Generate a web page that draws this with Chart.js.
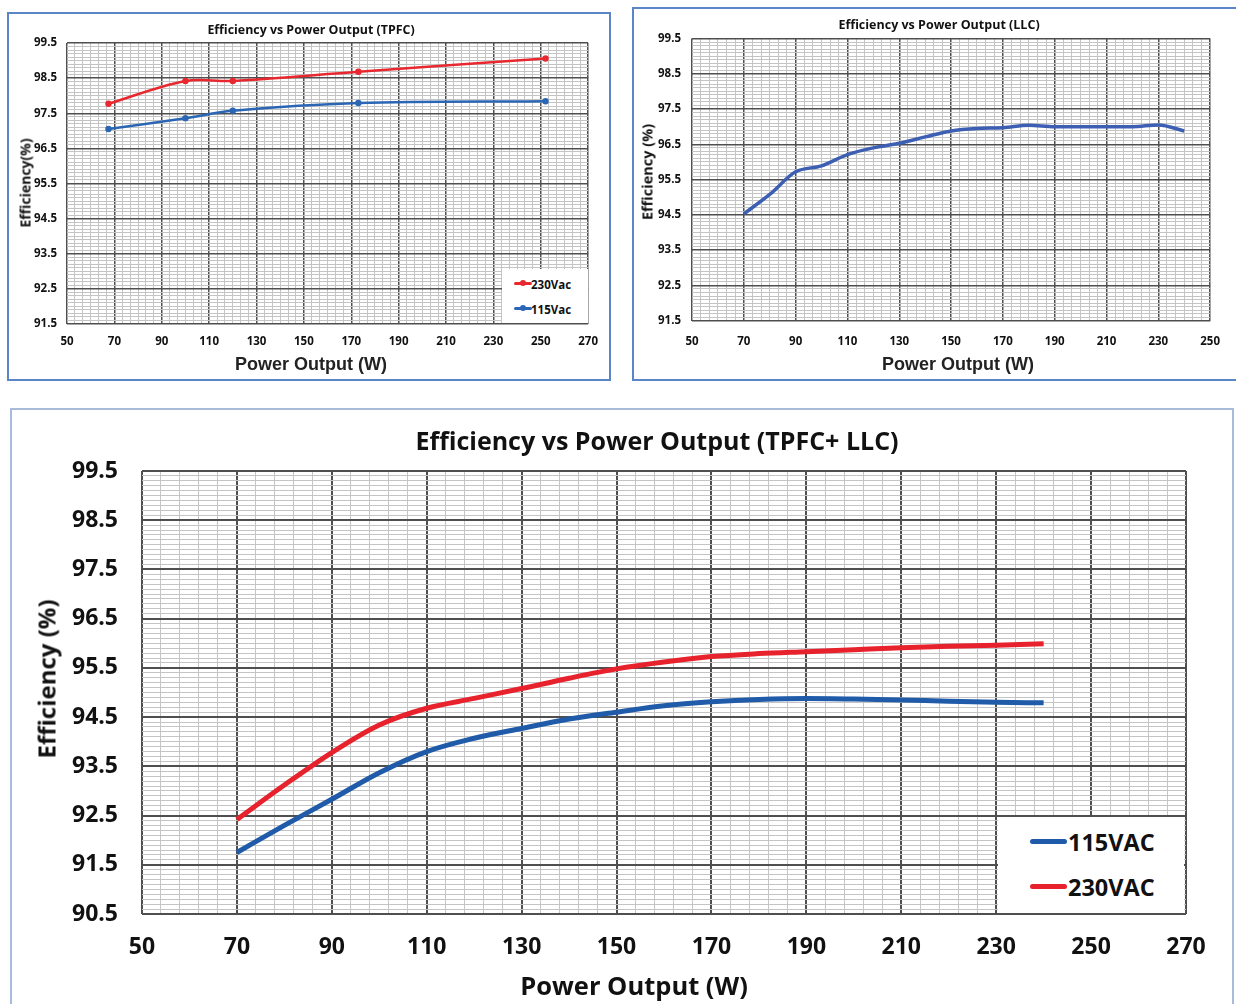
<!DOCTYPE html>
<html>
<head>
<meta charset="utf-8">
<title>Efficiency vs Power Output</title>
<script src="https://cdn.jsdelivr.net/npm/chart.js@4.4.1/dist/chart.umd.min.js"></script>
<style>
  html, body { margin: 0; padding: 0; background: #fff; overflow: hidden; }
  body { width: 1236px; height: 1004px; position: relative; }
  .panel { position: absolute; box-sizing: border-box; background: transparent; }
  #panelTpfc { left: 7px; top: 12px; width: 604px; height: 369px; border: 2px solid #5a86c8; }
  #panelLlc { left: 632px; top: 7px; width: 620px; height: 374px; border: 2px solid #5a86c8; }
  #panelCombo { left: 10px; top: 408px; width: 1224px; height: 610px; border: 2px solid #a9bbdb; }
  canvas { position: absolute; }
  .txt { position: absolute; white-space: nowrap; color: #111; transform: translate(-50%, -50%); }
  .rot { transform: translate(-50%, -50%) rotate(-90deg); }
  .calibri { font-family: "Open Sans", Lato, sans-serif; font-weight: bold; }
  .arial { font-family: "Liberation Sans", Arial, sans-serif; font-weight: bold; color: #222; }
  .legend { position: absolute; background: #fff; }
  .leg-line { position: absolute; border-radius: 3px; }
  .leg-dot { position: absolute; border-radius: 50%; }
  .leg-text { position: absolute; white-space: nowrap; transform: translateY(-50%); font-family: "Open Sans", sans-serif; font-weight: bold; color: #111; }
</style>
</head>
<body>
<div class="panel" id="panelTpfc"></div>
<div class="panel" id="panelLlc"></div>
<div class="panel" id="panelCombo"></div>

<canvas id="chartTpfc" width="600" height="365" style="left:9px;top:14px"></canvas>
<canvas id="chartLlc" width="600" height="370" style="left:634px;top:9px"></canvas>
<canvas id="chartCombo" width="1220" height="594" style="left:12px;top:410px"></canvas>

<!-- titles -->
<div class="txt calibri" style="left:311px;top:29px;font-size:12.4px">Efficiency vs Power Output (TPFC)</div>
<div class="txt calibri rot" style="left:25px;top:183px;font-size:14px">Efficiency(%)</div>
<div class="txt arial" style="left:311px;top:364px;font-size:18px">Power Output (W)</div>

<div class="txt calibri" style="left:939px;top:24px;font-size:12.5px">Efficiency vs Power Output (LLC)</div>
<div class="txt calibri rot" style="left:647px;top:172px;font-size:14.5px">Efficiency (%)</div>
<div class="txt arial" style="left:958px;top:364px;font-size:18px">Power Output (W)</div>

<div class="txt calibri" style="left:657px;top:440px;font-size:25px">Efficiency vs Power Output (TPFC+ LLC)</div>
<div class="txt calibri rot" style="left:46px;top:679px;font-size:24px">Efficiency (%)</div>
<div class="txt calibri" style="left:634px;top:985px;font-size:25.5px">Power Output (W)</div>

<!-- legends -->
<div class="legend" style="left:502px;top:269px;width:86px;height:54px"></div>
<div class="leg-line" style="left:514px;top:282px;width:18px;height:2.5px;background:#e8282e"></div>
<div class="leg-dot" style="left:520px;top:280px;width:6px;height:6px;background:#e8282e"></div>
<div class="leg-text" style="left:531px;top:283.5px;font-size:11.5px">230Vac</div>
<div class="leg-line" style="left:514px;top:307px;width:18px;height:2.5px;background:#2a66b4"></div>
<div class="leg-dot" style="left:520px;top:305px;width:6px;height:6px;background:#2a66b4"></div>
<div class="leg-text" style="left:531px;top:308.5px;font-size:11.5px">115Vac</div>

<div class="legend" style="left:998px;top:817px;width:186px;height:96px"></div>
<div class="leg-line" style="left:1030px;top:839px;width:37px;height:5px;background:#1f5ba8"></div>
<div class="leg-text" style="left:1068px;top:842px;font-size:23.5px">115VAC</div>
<div class="leg-line" style="left:1030px;top:884px;width:37px;height:5px;background:#e8222c"></div>
<div class="leg-text" style="left:1068px;top:887px;font-size:23.5px">230VAC</div>

<script>
// ---- data ----

// TPFC stage (measured points)
const TPFC_POWER = [67.5, 100, 120, 173, 252];
const TPFC_230VAC = [97.77, 98.42, 98.42, 98.68, 99.06];
const TPFC_115VAC = [97.05, 97.36, 97.57, 97.79, 97.84];

// LLC stage
const LLC_POWER = [70, 80, 90, 100, 110, 120, 130, 140, 150, 160, 170, 180, 190, 200, 210, 220, 230, 240];
const LLC_EFF = [94.53, 95.08, 95.72, 95.89, 96.21, 96.40, 96.53, 96.71, 96.88, 96.95, 96.97, 97.04, 97.0, 97.0, 97.0, 97.0, 97.05, 96.88];

// TPFC + LLC combined
const COMBO_POWER = [70, 80, 90, 100, 110, 120, 130, 140, 150, 160, 170, 180, 190, 200, 210, 220, 230, 240];
const COMBO_115VAC = [91.75, 92.30, 92.83, 93.37, 93.80, 94.07, 94.27, 94.46, 94.60, 94.73, 94.81, 94.86, 94.88, 94.87, 94.85, 94.82, 94.80, 94.79];
const COMBO_230VAC = [92.42, 93.12, 93.78, 94.34, 94.68, 94.88, 95.08, 95.29, 95.48, 95.62, 95.73, 95.79, 95.83, 95.87, 95.91, 95.94, 95.96, 95.99];

// axis tick labels (major grid)
const POWER_TICKS_270 = [50, 70, 90, 110, 130, 150, 170, 190, 210, 230, 250, 270];
const POWER_TICKS_250 = [50, 70, 90, 110, 130, 150, 170, 190, 210, 230, 250];
const EFF_TICKS_TOP = [91.5, 92.5, 93.5, 94.5, 95.5, 96.5, 97.5, 98.5, 99.5];
const EFF_TICKS_BOTTOM = [90.5, 91.5, 92.5, 93.5, 94.5, 95.5, 96.5, 97.5, 98.5, 99.5];

const MAJOR_GRID = '#4f4f4f';
const MINOR_GRID = '#c4c4c4';

// graph-paper ticks: every major plus evenly spaced minor lines between them
function graphTicks(majors, parts) {
  const out = [];
  for (let i = 0; i < majors.length - 1; i++) {
    const a = majors[i], b = majors[i + 1];
    for (let k = 0; k < parts; k++) {
      out.push({ value: a + (b - a) * k / parts, isMajor: k === 0 });
    }
  }
  out.push({ value: majors[majors.length - 1], isMajor: true });
  return out;
}

function toPoints(xs, ys) {
  return xs.map((x, i) => ({ x: x, y: ys[i] }));
}

function axis(cfg) {
  return {
    type: 'linear',
    min: cfg.majors[0],
    max: cfg.majors[cfg.majors.length - 1],
    afterBuildTicks: scale => { scale.ticks = graphTicks(cfg.majors, cfg.parts); },
    afterFit: scale => {
      if (cfg.width) scale.width = cfg.width;
      if (cfg.height) scale.height = cfg.height;
    },
    border: { display: false },
    grid: {
      drawTicks: false,
      color: ctx => (ctx.tick && ctx.tick.isMajor ? MAJOR_GRID : MINOR_GRID),
      lineWidth: ctx => (ctx.tick && ctx.tick.isMajor ? cfg.majorWidth : 1)
    },
    ticks: {
      autoSkip: false,
      maxRotation: 0,
      minRotation: 0,
      padding: cfg.padding,
      color: '#111',
      font: { family: '"Open Sans", Lato, sans-serif', weight: 'bold', size: cfg.fontSize },
      callback: (value, index, ticks) => {
        if (!ticks[index].isMajor) return '';
        return cfg.decimals ? value.toFixed(cfg.decimals) : String(Math.round(value));
      }
    }
  };
}

function makeChart(canvasId, datasets, layoutPad, xCfg, yCfg) {
  const ctx = document.getElementById(canvasId).getContext('2d');
  return new Chart(ctx, {
    type: 'line',
    data: { datasets: datasets },
    options: {
      responsive: false,
      animation: false,
      devicePixelRatio: 1,
      layout: { padding: layoutPad },
      plugins: { legend: { display: false }, tooltip: { enabled: false }, title: { display: false } },
      scales: { x: axis(xCfg), y: axis(yCfg) }
    }
  });
}

// TPFC chart
makeChart('chartTpfc', [
  {
    label: '230Vac', data: toPoints(TPFC_POWER, TPFC_230VAC),
    borderColor: '#e8282e', backgroundColor: '#e8282e', borderWidth: 2.5,
    pointRadius: 3.2, pointBorderWidth: 0, tension: 0.35
  },
  {
    label: '115Vac', data: toPoints(TPFC_POWER, TPFC_115VAC),
    borderColor: '#2a66b4', backgroundColor: '#2a66b4', borderWidth: 2.5,
    pointRadius: 3.2, pointBorderWidth: 0, tension: 0.35
  }
], { top: 29, right: 19, bottom: 0, left: 0 },
  { majors: POWER_TICKS_270, parts: 6, height: 55, padding: 11, fontSize: 11.5, majorWidth: 1.5 },
  { majors: EFF_TICKS_TOP, parts: 10, width: 58, padding: 10, fontSize: 11.5, majorWidth: 1.5, decimals: 1 });

// LLC chart
makeChart('chartLlc', [
  {
    label: 'LLC', data: toPoints(LLC_POWER, LLC_EFF),
    borderColor: '#3c5fb4', borderWidth: 3.5, pointRadius: 0,
    cubicInterpolationMode: 'monotone'
  }
], { top: 29.5, right: 10, bottom: 0, left: 0 },
  { majors: POWER_TICKS_250, parts: 6, height: 58.3, padding: 14, fontSize: 11.5, majorWidth: 1.5 },
  { majors: EFF_TICKS_TOP, parts: 10, width: 58, padding: 11, fontSize: 11.5, majorWidth: 1.5, decimals: 1 });

// combined chart
makeChart('chartCombo', [
  {
    label: '115VAC', data: toPoints(COMBO_POWER, COMBO_115VAC),
    borderColor: '#1f5ba8', borderWidth: 5, pointRadius: 0,
    cubicInterpolationMode: 'monotone'
  },
  {
    label: '230VAC', data: toPoints(COMBO_POWER, COMBO_230VAC),
    borderColor: '#e8222c', borderWidth: 5, pointRadius: 0,
    cubicInterpolationMode: 'monotone'
  }
], { top: 61, right: 46, bottom: 0, left: 0 },
  { majors: POWER_TICKS_270, parts: 5, height: 90, padding: 20, fontSize: 23, majorWidth: 2 },
  { majors: EFF_TICKS_BOTTOM, parts: 10, width: 130, padding: 24, fontSize: 23, majorWidth: 2, decimals: 1 });
</script>
</body>
</html>
